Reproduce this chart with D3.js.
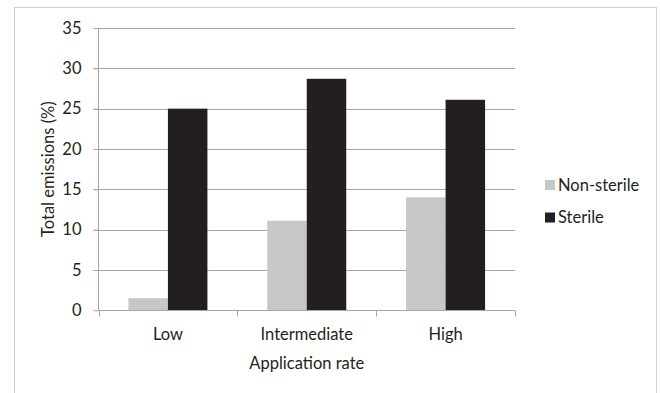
<!DOCTYPE html>
<html><head><meta charset="utf-8">
<script src="https://cdn.jsdelivr.net/npm/d3@7"></script>
<style>body{margin:0;background:#fff}svg{display:block}text{font-family:Lato,"Noto Sans",sans-serif;fill:#231f20}</style>
</head><body><svg id="c" width="660" height="393"></svg>
<script>
const categories = ["Low", "Intermediate", "High"];
const seriesNames = ["Non-sterile", "Sterile"];
const nonSterile = [1.5, 11.1, 14.0];
const sterile = [25.0, 28.7, 26.1];
const yTicks = [0, 5, 10, 15, 20, 25, 30, 35];
const colors = ["#c6c7c8", "#231f20"];

const FS = "16.5px";
const svg = d3.select("#c");
svg.append("rect").attr("x",14.5).attr("y",7.5).attr("width",642).attr("height",400)
  .attr("fill","none").attr("stroke","#d0d0d0");

const L=98.5, R=515, T=28, B=310.3;
const x = d3.scaleBand().domain(categories).range([L,R]).paddingInner(0).paddingOuter(0);
const y = d3.scaleLinear().domain([0,35]).range([B,T]);
const barW = 39.5;
const x1 = d3.scaleBand().domain(seriesNames).range([0, barW*2]);

// gridlines
svg.append("g").selectAll("line").data(yTicks.filter(d=>d>0)).join("line")
  .attr("x1",L-5).attr("x2",R).attr("y1",d=>Math.round(y(d))+0.5).attr("y2",d=>Math.round(y(d))+0.5)
  .attr("stroke","#a6a6a6").attr("stroke-width",1);

const data = categories.map((c,i)=>({c, vals:[nonSterile[i], sterile[i]]}));
const g = svg.append("g");
data.forEach(d=>{
  d.vals.forEach((v,j)=>{
    const x0 = x(d.c) + (x.bandwidth()-barW*2)/2 + x1(seriesNames[j]);
    g.append("rect").attr("x",x0).attr("width",x1.bandwidth())
      .attr("y",y(v)).attr("height",B-y(v)).attr("fill",colors[j]);
  });
});

// axes
const yAxis = d3.axisLeft(y).tickValues(yTicks).tickSize(5).tickPadding(12);
const ya = svg.append("g").attr("transform",`translate(${L},0)`).call(yAxis);
ya.select(".domain").attr("stroke","#a6a6a6").attr("d",`M-0,${T}V${B+0.5}`);
ya.selectAll(".tick line").attr("stroke","#a6a6a6");
ya.selectAll(".tick text").style("font-size",FS).style("font-family","Lato").attr("fill","#231f20");

const xAxis = d3.axisBottom(x).tickSize(0).tickPadding(18);
const xa = svg.append("g").attr("transform",`translate(0,${Math.round(B)+0.5})`).call(xAxis);
xa.select(".domain").attr("stroke","#a6a6a6").attr("d",`M${L},0H${R}`);
xa.selectAll(".tick text").style("font-size",FS).style("font-family","Lato").attr("fill","#231f20");
// category boundary ticks
xa.append("g").selectAll("line").data(d3.range(categories.length+1)).join("line")
  .attr("x1",i=>Math.round(L+i*x.step())+0.5).attr("x2",i=>Math.round(L+i*x.step())+0.5)
  .attr("y1",0).attr("y2",6).attr("stroke","#a6a6a6");

svg.append("text").attr("x",(L+R)/2).attr("y",369).attr("text-anchor","middle")
  .style("font-size",FS).text("Application rate");
svg.append("text").attr("transform",`translate(54,${(T+B)/2}) rotate(-90)`).attr("text-anchor","middle")
  .style("font-size",FS).text("Total emissions (%)");

// legend
const lg = svg.append("g");
seriesNames.forEach((s,i)=>{
  const cy = 185 + i*32.5;
  lg.append("rect").attr("x",545).attr("y",cy-5).attr("width",10).attr("height",10).attr("fill",colors[i]);
  lg.append("text").attr("x",558).attr("y",cy).attr("dy","0.35em").style("font-size",FS).text(s);
});
</script></body></html>
